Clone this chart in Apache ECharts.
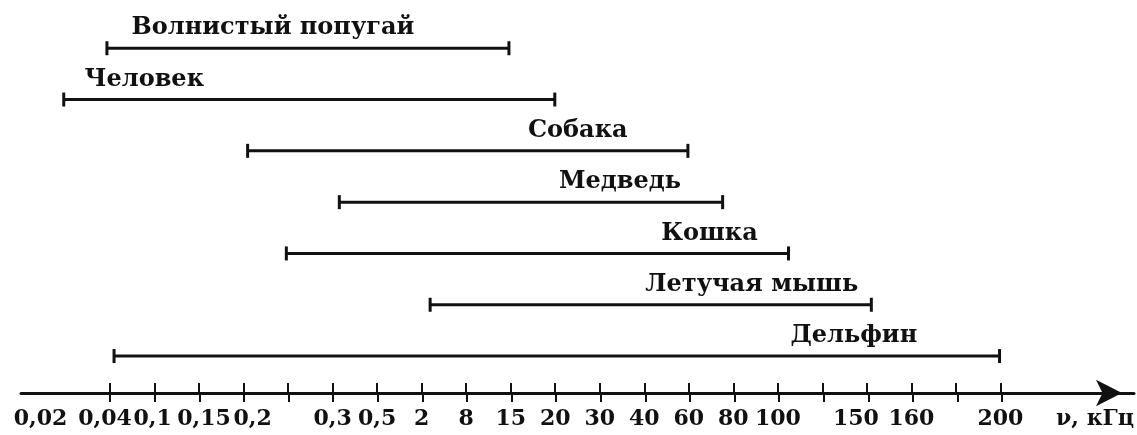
<!DOCTYPE html>
<html>
<head>
<meta charset="utf-8">
<script src="https://cdn.jsdelivr.net/npm/echarts@6/dist/echarts.min.js"></script>
<style>
  html, body { margin: 0; padding: 0; background: #fff; }
  #main { width: 1137px; height: 435px; }
</style>
</head>
<body>
<div id="main"></div>
<script>
// подписи делений оси (пустая строка - деление без подписи)
const tickLabels = ['0,02', '0,04', '0,1', '0,15', '0,2', '', '0,3', '0,5', '2', '8', '15', '20',
    '30', '40', '60', '80', '100', '', '150', '160', '', '200'];

const animals = ['Волнистый попугай', 'Человек', 'Собака', 'Медведь', 'Кошка', 'Летучая мышь', 'Дельфин'];

// границы диапазона в делениях оси (0 = 0,02 кГц, 21 = 200 кГц)
const rangeFrom = [0.93, -0.04, 4.09, 6.15, 4.96, 8.19, 1.09];
const rangeTo = [9.96, 10.99, 13.98, 14.76, 16.24, 18.1, 20.98];

const unitName = 'ν, кГц';

// оформление
const ink = '#111';
const serif = 'DejaVu Serif';
const tickFont = 22;
const labelDx = [-35, -165, 110, 89, 172, 101, 297];   // сдвиг подписи от середины отрезка, px
const tickShift = { '0,02': -25, '0,04': -5, '0,1': -2, '0,15': 5, '0,2': 9, '150': -11 };  // сдвиг подписей делений, px

// категории оси: одно пустое место слева и три справа под стрелку
const cats = [''].concat(tickLabels, ['', '', '']);
const lastTick = tickLabels.length;           // индекс '200' в cats
const showTick = (i) => i >= 2 && i <= lastTick;

const rich = {};
const shiftKeys = Object.keys(tickShift);
shiftKeys.forEach((k, n) => {
    const s = tickShift[k];
    rich['s' + n] = {
        fontFamily: serif, fontSize: tickFont, fontWeight: 'bold', color: ink,
        padding: s < 0 ? [0, -2 * s, 0, 0] : [0, 0, 0, 2 * s]
    };
});

const chart = echarts.init(document.getElementById('main'));

const option = {
    animation: false,
    backgroundColor: '#fff',
    grid: [
        { left: 21, right: 1, top: 0, bottom: 42 },
        { left: 21, right: 1, top: 0, bottom: 42 }
    ],
    xAxis: [
        {
            type: 'category',
            gridIndex: 0,
            position: 'bottom',
            data: cats,
            boundaryGap: false,
            axisLine: {
                onZero: false,
                lineStyle: { color: ink, width: 3 },
                symbol: ['none', 'arrow'],
                symbolSize: [20, 26],
                symbolOffset: [0, -12]
            },
            axisTick: {
                inside: true,
                length: 10,
                interval: showTick,
                lineStyle: { color: ink, width: 2 }
            },
            axisLabel: {
                interval: 0,
                margin: 15,
                color: ink,
                fontFamily: serif,
                fontSize: tickFont,
                fontWeight: 'bold',
                formatter: (v) => {
                    const n = shiftKeys.indexOf(v);
                    return n >= 0 ? '{s' + n + '|' + v + '}' : v;
                },
                rich: rich
            },
            splitLine: { show: false },
            name: unitName,
            nameLocation: 'end',
            nameGap: 0,
            nameTextStyle: {
                color: ink,
                fontFamily: serif,
                fontSize: tickFont,
                fontWeight: 'bold',
                align: 'right',
                verticalAlign: 'top',
                padding: [15, 0, 0, 0]
            }
        },
        {
            // скрытая числовая ось для отрезков
            type: 'value',
            gridIndex: 0,
            position: 'top',
            min: -1,
            max: 24,
            show: false
        },
        {
            // нижняя половина засечек
            type: 'category',
            gridIndex: 1,
            position: 'bottom',
            data: cats,
            boundaryGap: false,
            axisLine: { show: false, onZero: false },
            axisTick: {
                inside: false,
                length: 9,
                interval: showTick,
                lineStyle: { color: ink, width: 2 }
            },
            axisLabel: { show: false },
            splitLine: { show: false }
        }
    ],
    yAxis: [
        { type: 'value', gridIndex: 0, inverse: true, min: -0.94, max: 6.72, show: false },
        { type: 'value', gridIndex: 1, min: 1, max: 2, show: false }
    ],
    series: [{
        type: 'custom',
        xAxisIndex: 1,
        yAxisIndex: 0,
        data: animals.map((name, i) => [i, rangeFrom[i], rangeTo[i]]),
        encode: { x: [1, 2], y: 0 },
        renderItem: (params, api) => {
            const i = params.dataIndex;
            const a = api.coord([api.value(1), api.value(0)]);
            const b = api.coord([api.value(2), api.value(0)]);
            const line = { stroke: ink, lineWidth: 3 };
            return {
                type: 'group',
                children: [
                    { type: 'line', shape: { x1: a[0], y1: a[1], x2: b[0], y2: b[1] }, style: line },
                    { type: 'line', shape: { x1: a[0], y1: a[1] - 7, x2: a[0], y2: a[1] + 7 }, style: line },
                    { type: 'line', shape: { x1: b[0], y1: b[1] - 7, x2: b[0], y2: b[1] + 7 }, style: line },
                    {
                        type: 'text',
                        style: {
                            text: animals[i],
                            x: (a[0] + b[0]) / 2 + labelDx[i],
                            y: a[1] - 8,
                            align: 'center',
                            verticalAlign: 'bottom',
                            fill: ink,
                            font: 'bold 24px "' + serif + '"'
                        }
                    }
                ]
            };
        }
    }]
};

chart.setOption(option);
</script>
</body>
</html>
